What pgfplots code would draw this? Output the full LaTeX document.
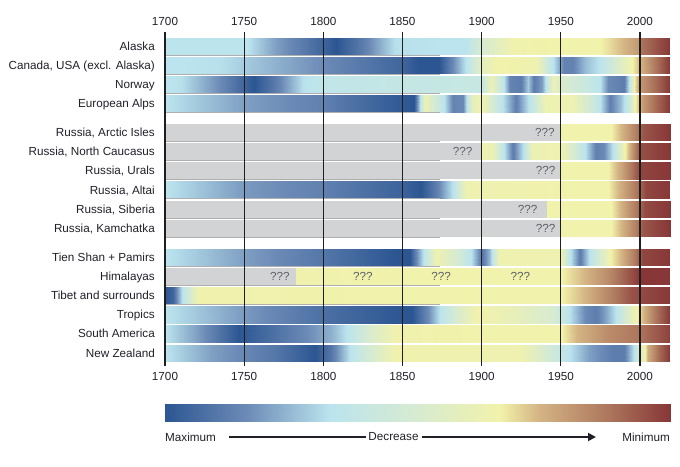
\documentclass[border=0pt]{standalone}
\usepackage{pgfplots}
\usepackage{pgfplotstable}
\pgfplotsset{compat=1.18}
\usetikzlibrary{arrows.meta}
\usepackage{fontspec}
\setmainfont{Liberation Sans}
\definecolor{greybox}{RGB}{210,211,213}
\definecolor{qmark}{RGB}{95,95,105}
\definecolor{shadow}{RGB}{175,175,178}
\definecolor{txt}{RGB}{35,30,40}
\definecolor{gridc}{RGB}{30,30,30}

\pgfplotsset{colormap={glacier}{rgb255(0pt)=(44,86,146); rgb255(160pt)=(108,138,182); rgb255(327pt)=(187,228,238); rgb255(500pt)=(215,235,208); rgb255(663pt)=(242,242,170); rgb255(740pt)=(212,180,132); rgb255(870pt)=(175,122,95); rgb255(1000pt)=(135,55,55)}}

% #1 table name, #2 row position, #3 data (year, level 0 = maximum ... 1 = minimum)
\newcommand\mkrow[3]{%
  \pgfplotstableread[row sep=\\]{#3}#1%
  \pgfplotstableread[row sep=\\]{#3}\tmphi
  \pgfplotstablecreatecol[create col/expr={#2-0.44}]{y}{#1}%
  \pgfplotstablecreatecol[create col/expr={#2+0.44}]{y}{\tmphi}%
  \pgfplotstablevertcat{#1}{\tmphi}%
}
\mkrow\tAlaska{0}{x c\\ 1700 0.33\\ 1752 0.33\\ 1770 0.2\\ 1790 0.1\\ 1808 0\\ 1825 0.12\\ 1845 0.32\\ 1890 0.33\\ 1900 0.5\\ 1920 0.65\\ 1975 0.66\\ 1990 0.74\\ 1999.5 0.8\\ 2000.5 0.88\\ 2019 1\\}
\mkrow\tCanada{1}{x c\\ 1700 0.33\\ 1735 0.32\\ 1800 0.16\\ 1850 0.05\\ 1860 0\\ 1873 0\\ 1882 0.16\\ 1890 0.33\\ 1900 0.58\\ 1910 0.66\\ 1935 0.64\\ 1945 0.33\\ 1952 0.14\\ 1958 0.14\\ 1966 0.26\\ 1975 0.33\\ 1985 0.5\\ 1995 0.66\\ 2000 0.74\\ 2010 0.88\\ 2019 1\\}
\mkrow\tNorway{2}{x c\\ 1700 0.33\\ 1710 0.32\\ 1735 0.16\\ 1756 0\\ 1770 0.12\\ 1787 0.32\\ 1800 0.36\\ 1900 0.4\\ 1906 0.62\\ 1912 0.42\\ 1918 0.14\\ 1925 0.12\\ 1929 0.28\\ 1933 0.12\\ 1938 0.2\\ 1945 0.62\\ 1950 0.52\\ 1965 0.42\\ 1975 0.33\\ 1980 0.16\\ 1990 0.12\\ 1993 0.33\\ 1996 0.66\\ 2000 0.8\\ 2010 0.9\\ 2019 1\\}
\mkrow\tAlps{3}{x c\\ 1700 0.33\\ 1750 0.2\\ 1800 0.13\\ 1840 0.03\\ 1857 0\\ 1861 0.32\\ 1864 0.64\\ 1870 0.48\\ 1876 0.33\\ 1882 0.14\\ 1888 0.16\\ 1894 0.58\\ 1900 0.65\\ 1905 0.52\\ 1912 0.35\\ 1922 0.13\\ 1930 0.33\\ 1940 0.63\\ 1958 0.63\\ 1968 0.48\\ 1975 0.33\\ 1981 0.13\\ 1988 0.26\\ 1993 0.42\\ 1997 0.66\\ 2002 0.8\\ 2010 0.9\\ 2019 1\\}
\mkrow\tArctic{4.5}{x c\\ 1950 0.66\\ 1982 0.66\\ 1990 0.76\\ 1998 0.87\\ 2002 0.94\\ 2019 1\\}
\mkrow\tCaucasus{5.5}{x c\\ 1900 0.64\\ 1907 0.62\\ 1914 0.33\\ 1920 0.12\\ 1926 0.32\\ 1932 0.62\\ 1950 0.64\\ 1958 0.5\\ 1965 0.33\\ 1972 0.13\\ 1977 0.16\\ 1983 0.33\\ 1990 0.64\\ 1995 0.8\\ 2000 0.95\\ 2019 1\\}
\mkrow\tUrals{6.5}{x c\\ 1950 0.66\\ 1980 0.66\\ 1988 0.77\\ 1995 0.88\\ 2000 0.97\\ 2019 1\\}
\mkrow\tAltai{7.5}{x c\\ 1700 0.33\\ 1750 0.19\\ 1800 0.13\\ 1850 0.04\\ 1862 0\\ 1872 0.13\\ 1882 0.33\\ 1890 0.64\\ 1980 0.66\\ 1990 0.78\\ 1998 0.88\\ 2004 0.97\\ 2019 1\\}
\mkrow\tSiberia{8.5}{x c\\ 1941 0.66\\ 1982 0.66\\ 1990 0.77\\ 1998 0.88\\ 2003 0.96\\ 2019 1\\}
\mkrow\tKamchatka{9.5}{x c\\ 1950 0.66\\ 1982 0.66\\ 1990 0.76\\ 1998 0.87\\ 2002 0.94\\ 2019 1\\}
\mkrow\tTienShan{11}{x c\\ 1700 0.33\\ 1750 0.2\\ 1800 0.1\\ 1845 0\\ 1855 0\\ 1863 0.32\\ 1871 0.64\\ 1885 0.48\\ 1893 0.33\\ 1900 0.1\\ 1905 0.26\\ 1911 0.64\\ 1950 0.64\\ 1955 0.36\\ 1962 0.12\\ 1968 0.32\\ 1975 0.5\\ 1981 0.66\\ 1988 0.74\\ 1996 0.86\\ 2002 0.97\\ 2019 1\\}
\mkrow\tHimalaya{12}{x c\\ 1783 0.65\\ 1950 0.66\\ 1965 0.74\\ 1980 0.83\\ 1992 0.93\\ 2000 1\\ 2019 1\\}
\mkrow\tTibet{13}{x c\\ 1700 0\\ 1705 0.05\\ 1711 0.32\\ 1716 0.5\\ 1721 0.65\\ 1950 0.66\\ 1965 0.74\\ 1980 0.84\\ 1995 0.95\\ 2019 1\\}
\mkrow\tTropics{14}{x c\\ 1700 0.33\\ 1750 0.19\\ 1800 0.08\\ 1850 0\\ 1856 0\\ 1866 0.16\\ 1874 0.33\\ 1885 0.52\\ 1897 0.66\\ 1920 0.6\\ 1945 0.5\\ 1955 0.33\\ 1965 0.16\\ 1972 0.12\\ 1978 0.2\\ 1985 0.33\\ 1992 0.52\\ 1998 0.66\\ 2003 0.76\\ 2010 0.88\\ 2019 1\\}
\mkrow\tSAmerica{15}{x c\\ 1700 0.33\\ 1720 0.2\\ 1747 0\\ 1760 0.05\\ 1790 0.16\\ 1805 0.23\\ 1815 0.33\\ 1830 0.52\\ 1845 0.65\\ 1950 0.66\\ 1960 0.74\\ 1980 0.83\\ 2000 0.88\\ 2019 0.98\\}
\mkrow\tNZ{16}{x c\\ 1700 0.33\\ 1730 0.2\\ 1770 0.1\\ 1795 0\\ 1805 0.1\\ 1817 0.33\\ 1830 0.5\\ 1845 0.65\\ 1925 0.64\\ 1940 0.5\\ 1955 0.33\\ 1968 0.2\\ 1983 0.12\\ 1990 0.12\\ 1996 0.33\\ 2005 0.76\\ 2012 0.9\\ 2019 1\\}

\pgfplotsset{
  band/.style={surf, shader=interp, mesh/rows=2, point meta=explicit},
}
\tikzset{lab/.style={font=\fontsize{11.7}{14}\selectfont}}
\newcommand\band[1]{\addplot[band] table[x=x, y=y, meta=c] {#1};}
\newcommand\greyrow[2]{\addplot[fill=greybox, draw=none] coordinates {(1700,#1-0.44) (#2,#1-0.44) (#2,#1+0.44) (1700,#1+0.44)} -- cycle;}

\begin{document}
\begin{tikzpicture}
\path[use as bounding box] (0,0) rectangle (680pt,-466pt);
\begin{axis}[
  at={(165pt,-366pt)}, anchor=south west,
  scale only axis, width=505pt, height=334pt,
  xmin=1700, xmax=2019, ymin=-0.73, ymax=16.68, y dir=reverse,
  axis line style={draw=none}, major tick length=0pt,
  xtick={1700,1750,...,2000},
  xmajorgrids, major grid style={gridc, line width=1.3pt},
  axis on top,
  ytick={0,1,2,3,4.5,5.5,6.5,7.5,8.5,9.5,11,12,13,14,15,16},
  yticklabels={Alaska,{Canada, USA (excl. Alaska)},Norway,European Alps,{Russia, Arctic Isles},{Russia, North Caucasus},{Russia, Urals},{Russia, Altai},{Russia, Siberia},{Russia, Kamchatka},Tien Shan + Pamirs,Himalayas,Tibet and surrounds,Tropics,South America,New Zealand},
  colormap name=glacier, point meta min=0, point meta max=1,
  tick label style={font=\fontsize{11.7}{14}\selectfont, text=txt},
  /pgf/number format/assume math mode=true, /pgf/number format/1000 sep={},
  xticklabel style={anchor=north, inner sep=0pt, yshift=-6.4pt},
  yticklabel style={anchor=base east, inner sep=0pt, xshift=-10pt, yshift=-4.2pt},
]
% grey = unknown
\greyrow{4.5}{1950}
\greyrow{5.5}{1900}
\greyrow{6.5}{1950}
\greyrow{8.5}{1941}
\greyrow{9.5}{1950}
\greyrow{12}{1783}
% coloured bands
\band\tAlaska
\band\tCanada
\band\tNorway
\band\tAlps
\band\tArctic
\band\tCaucasus
\band\tUrals
\band\tAltai
\band\tSiberia
\band\tKamchatka
\band\tTienShan
\band\tHimalaya
\band\tTibet
\band\tTropics
\band\tSAmerica
\band\tNZ
% shadow lines
\pgfplotsinvokeforeach{0,1,2,3,4.5,5.5,6.5,7.5,8.5,9.5,11,12,13}{
  \addplot[shadow, line width=0.6pt] coordinates {(1700,#1+0.46) (1874,#1+0.46)};
}
\node[lab, text=qmark] at (axis cs:1940,4.5) {???};
\node[lab, text=qmark] at (axis cs:1888,5.5) {???};
\node[lab, text=qmark] at (axis cs:1940.5,6.5) {???};
\node[lab, text=qmark] at (axis cs:1929,8.5) {???};
\node[lab, text=qmark] at (axis cs:1940.5,9.5) {???};
\node[lab, text=qmark] at (axis cs:1772.5,12) {???};
\node[lab, text=qmark] at (axis cs:1825,12) {???};
\node[lab, text=qmark] at (axis cs:1874.5,12) {???};
\node[lab, text=qmark] at (axis cs:1924.5,12) {???};
\end{axis}
% top tick labels
\begin{axis}[
  at={(165pt,-366pt)}, anchor=south west,
  scale only axis, width=505pt, height=334pt,
  xmin=1700, xmax=2019, ymin=0, ymax=1,
  axis line style={draw=none}, major tick length=0pt,
  xtick={1700,1750,...,2000}, ytick=\empty, xticklabel pos=upper,
  tick label style={font=\fontsize{11.7}{14}\selectfont, text=txt},
  /pgf/number format/assume math mode=true, /pgf/number format/1000 sep={},
  xticklabel style={anchor=south, inner sep=0pt, yshift=6pt},
]
\end{axis}
% colour scale
\begin{axis}[
  at={(165pt,-421pt)}, anchor=south west,
  scale only axis, width=505pt, height=17pt,
  xmin=0, xmax=1, ymin=0, ymax=1, hide axis,
  colormap name=glacier, point meta min=0, point meta max=1,
]
\addplot[surf, shader=interp, mesh/rows=2, point meta=x] coordinates {
(0,0) (0.16,0) (0.327,0) (0.5,0) (0.663,0) (0.74,0) (0.87,0) (1,0)

(0,1) (0.16,1) (0.327,1) (0.5,1) (0.663,1) (0.74,1) (0.87,1) (1,1)
};
\end{axis}
\node[lab, text=txt, anchor=west, inner sep=0pt] at (165pt,-437pt) {Maximum};
\node[lab, text=txt, anchor=east, inner sep=0pt] at (670pt,-437pt) {Minimum};
\node[lab, text=txt, inner sep=0pt] at (393.5pt,-437pt) {Decrease};
\draw[txt, line width=1.8pt] (229pt,-437pt) -- (366pt,-437pt);
\draw[txt, line width=1.8pt, -{Triangle[length=8pt,width=8pt]}] (422pt,-437pt) -- (596pt,-437pt);
\end{tikzpicture}
\end{document}
